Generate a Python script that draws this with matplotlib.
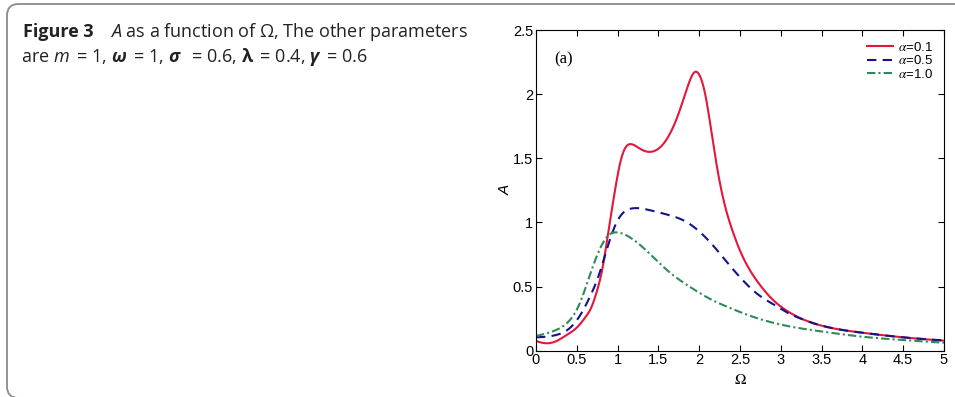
import numpy as np
import matplotlib
matplotlib.use("Agg")
import matplotlib.pyplot as plt
from matplotlib.patches import FancyBboxPatch
from matplotlib.font_manager import FontProperties

plt.rcParams["font.family"] = "Liberation Sans"
# caption maths in Open Sans, chart maths in stix (Times-like)
plt.rcParams["mathtext.fontset"] = "custom"
plt.rcParams["mathtext.rm"] = "Open Sans"
plt.rcParams["mathtext.it"] = "Open Sans:italic"
plt.rcParams["mathtext.bf"] = "Open Sans:bold"
plt.rcParams["mathtext.bfit"] = "Open Sans:bold:italic"

# values
omega_01 = [0.0, 0.12, 0.25, 0.37, 0.5, 0.61, 0.68, 0.735, 0.817, 0.878, 0.968, 1.03, 1.09, 1.17, 1.27,
            1.40, 1.52, 1.64, 1.765, 1.87, 1.94, 2.01, 2.07, 2.13, 2.19, 2.25, 2.30, 2.40, 2.5, 2.61,
            2.745, 2.94, 3.03, 3.235, 3.52, 4.0, 4.5, 5.0]
amp_01 = [0.075, 0.058, 0.075, 0.12, 0.18, 0.265, 0.34, 0.44, 0.65, 0.89, 1.25, 1.46, 1.576, 1.61, 1.576,
          1.55, 1.585, 1.69, 1.88, 2.08, 2.17, 2.14, 2.01, 1.79, 1.54, 1.32, 1.17, 0.95, 0.78, 0.64,
          0.512, 0.375, 0.33, 0.255, 0.192, 0.14, 0.104, 0.078]

omega_05 = [0.0, 0.245, 0.41, 0.53, 0.653, 0.776, 0.878, 0.98, 1.06, 1.185, 1.39, 1.63, 1.84, 2.0, 2.12,
            2.25, 2.37, 2.49, 2.61, 2.76, 2.94, 3.03, 3.235, 3.52, 4.0, 4.5, 5.0]
amp_05 = [0.104, 0.122, 0.174, 0.265, 0.41, 0.60, 0.81, 0.99, 1.07, 1.11, 1.096, 1.057, 1.005, 0.93, 0.855,
          0.76, 0.667, 0.58, 0.5, 0.42, 0.35, 0.315, 0.252, 0.192, 0.14, 0.104, 0.08]

omega_10 = [0.0, 0.245, 0.41, 0.53, 0.653, 0.776, 0.878, 1.0, 1.14, 1.39, 1.63, 1.88, 2.12, 2.37, 2.61,
            2.99, 3.52, 4.0, 4.5, 5.0]
amp_10 = [0.114, 0.161, 0.235, 0.36, 0.576, 0.784, 0.893, 0.922, 0.888, 0.758, 0.615, 0.50, 0.408, 0.335, 0.275,
          0.205, 0.148, 0.109, 0.083, 0.062]

series = [
    (omega_01, amp_01, r"$\alpha$=0.1", "#e3173c", "-"),
    (omega_05, amp_05, r"$\alpha$=0.5", "#14148a", (0, (4.5, 3))),
    (omega_10, amp_10, r"$\alpha$=1.0", "#2e8b57", (0, (4, 1.5, 1, 1.5))),
]


def smooth(xs, ys, n=500):
    # natural cubic spline through the read-off points
    xs = np.asarray(xs, float)
    ys = np.asarray(ys, float)
    N = len(xs)
    h = np.diff(xs)
    A = np.zeros((N, N))
    b = np.zeros(N)
    A[0, 0] = A[-1, -1] = 1
    for i in range(1, N - 1):
        A[i, i - 1] = h[i - 1]
        A[i, i] = 2 * (h[i - 1] + h[i])
        A[i, i + 1] = h[i]
        b[i] = 6 * ((ys[i + 1] - ys[i]) / h[i] - (ys[i] - ys[i - 1]) / h[i - 1])
    M = np.linalg.solve(A, b)
    xx = np.linspace(xs[0], xs[-1], n)
    k = np.clip(np.searchsorted(xs, xx) - 1, 0, N - 2)
    a = xs[k + 1] - xx
    c = xx - xs[k]
    hk = h[k]
    yy = (M[k] * a**3 + M[k + 1] * c**3) / (6 * hk) \
        + (ys[k] / hk - M[k] * hk / 6) * a + (ys[k + 1] / hk - M[k + 1] * hk / 6) * c
    return xx, yy


fig = plt.figure(figsize=(9.55, 3.97), dpi=100)

# rounded frame around the figure panel
frame = FancyBboxPatch((7 / 955, -1 / 397), 1.2, 1 - 3 / 397,
                       boxstyle="round,pad=0,rounding_size=0.012",
                       transform=fig.transFigure, fill=False, edgecolor="#8a8a8a",
                       linewidth=1.3, mutation_aspect=955 / 397)
fig.patches.append(frame)

# caption
cap_kw = dict(fontsize=13, family=["Open Sans", "DejaVu Sans"], va="baseline", color="#222222")
ts = "\u2009"
fig.text(23 / 955, 1 - 37 / 397, "Figure 3", fontweight="bold", **cap_kw)
fig.text(110 / 955, 1 - 37 / 397,
         r"$\mathit{A}$ as a function of $\boldsymbol{\mathit{\Omega}}$, The other parameters",
         **cap_kw)
fig.text(21 / 955, 1 - 62 / 397,
         rf"are $\mathit{{m}}${ts} = 1, $\boldsymbol{{\omega}}${ts} = 1, "
         rf"$\boldsymbol{{\sigma}}${ts}  = 0.6, $\boldsymbol{{\lambda}}${ts} = 0.4, "
         rf"$\boldsymbol{{\gamma}}${ts} = 0.6",
         **cap_kw)

ax = fig.add_axes([536 / 955, 1 - 350.7 / 397, 408 / 955, 320.7 / 397])
for xs, ys, lab, col, ls in series:
    xx, yy = smooth(xs, ys)
    ax.plot(xx, yy, color=col, linestyle=ls, linewidth=1.5, label=lab)

ax.set_xlim(0, 5)
ax.set_ylim(0, 2.5)
ax.set_xticks(np.arange(0, 5.01, 0.5))
ax.set_xticklabels(["0", "0.5", "1", "1.5", "2", "2.5", "3", "3.5", "4", "4.5", "5"])
ax.set_yticks(np.arange(0, 2.51, 0.5))
ax.set_yticklabels(["0", "0.5", "1", "1.5", "2", "2.5"])
ax.tick_params(direction="in", top=True, right=True, length=4, width=0.8,
               labelsize=10.5, pad=2)
for sp in ax.spines.values():
    sp.set_linewidth(0.8)

ax.set_xlabel(r"$\Omega$", fontsize=11, labelpad=4, math_fontfamily="stix")
ax.set_ylabel("A", fontsize=11, style="italic", labelpad=0)
ax.text(0.22, 2.24, "(a)", fontsize=12, family="Liberation Serif")

leg_font = FontProperties(family="Liberation Sans", size=9.5, math_fontfamily="stix")
ax.legend(loc="upper right", frameon=False, handlelength=2.0,
          handletextpad=0.4, labelspacing=0.05, borderaxespad=0.4, prop=leg_font)

fig.savefig("out.png", dpi=100)
